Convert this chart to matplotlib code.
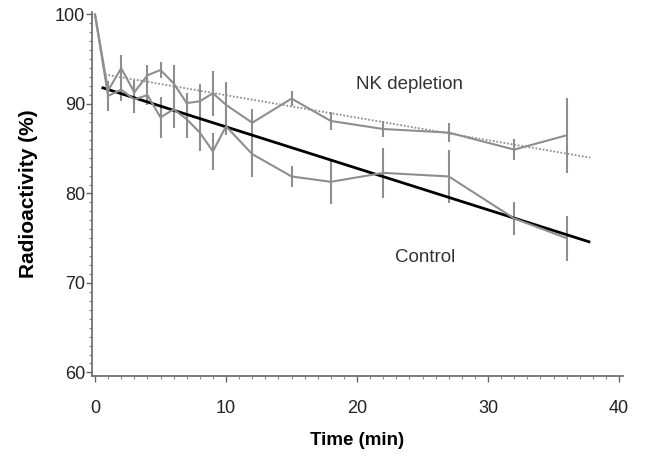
import matplotlib
matplotlib.use("Agg")
import matplotlib.pyplot as plt
from matplotlib.ticker import MultipleLocator

plt.rcParams['font.family'] = ['Liberation Sans', 'DejaVu Sans']

time = [0, 1, 2, 3, 4, 5, 6, 7, 8, 9, 10, 12, 15, 18, 22, 27, 32, 36]
nk_mean = [100, 91.5, 94.0, 91.3, 93.2, 93.8, 92.3, 90.1, 90.3, 91.2, 89.9, 87.9, 90.6, 88.1, 87.2, 86.8, 84.9, 86.5]
nk_err = [0, 0.9, 1.5, 1.4, 1.2, 0.9, 2.0, 1.1, 1.9, 2.5, 2.5, 1.5, 0.8, 1.0, 0.85, 1.05, 1.2, 4.2]
ctrl_mean = [100, 90.9, 91.6, 90.5, 91.0, 88.5, 89.4, 88.3, 86.8, 84.7, 87.5, 84.4, 81.9, 81.3, 82.3, 81.9, 77.2, 75.0]
ctrl_err = [0, 1.7, 1.3, 1.5, 1.1, 2.3, 2.1, 2.1, 2.1, 2.1, 1.0, 2.6, 1.2, 2.5, 2.8, 3.0, 1.8, 2.5]

fit_time = [0.6, 37.7]
ctrl_fit = [91.8, 74.6]
nk_fit_time = [0.75, 37.8]
nk_fit = [93.3, 84.0]

fig = plt.figure(figsize=(6.46, 4.61), dpi=100)
ax = fig.add_axes([0.1424, 0.1844, 0.822, 0.790])

gray = '#8e8e8e'
ax.errorbar(time, nk_mean, yerr=nk_err, color=gray, lw=1.5, elinewidth=1.5, capsize=0)
ax.errorbar(time, ctrl_mean, yerr=ctrl_err, color=gray, lw=1.5, elinewidth=1.5, capsize=0)
ax.plot(nk_fit_time, nk_fit, color='#909090', lw=1.3, ls=(0, (1, 1)))
ax.plot(fit_time, ctrl_fit, color='black', lw=2.0)

ax.text(24.0, 92.2, 'NK depletion', fontsize=13.5, color='#333333', ha='center', va='center')
ax.text(25.2, 72.8, 'Control', fontsize=13.5, color='#333333', ha='center', va='center')

ax.set_xlim(-0.23, 40.3)
ax.set_ylim(59.6, 100.3)
ax.set_xticks([0, 10, 20, 30, 40])
ax.set_yticks([60, 70, 80, 90, 100])
ax.xaxis.set_minor_locator(MultipleLocator(1))
ax.yaxis.set_minor_locator(MultipleLocator(1))
for s in ['top', 'right']:
    ax.spines[s].set_visible(False)
for s in ['left', 'bottom']:
    ax.spines[s].set_color('#666666')
    ax.spines[s].set_linewidth(1.2)
ax.tick_params(axis='both', which='major', length=4, width=1, color='#666666',
               labelsize=13, labelcolor='#222222', direction='out')
ax.tick_params(axis='both', which='minor', length=2.5, width=0.8, color='#888888', direction='out')
ax.tick_params(axis='x', pad=13)
ax.tick_params(axis='y', pad=1)

ax.set_xlabel('Time (min)', fontsize=13.5, fontweight='bold', labelpad=11)
ax.set_ylabel('Radioactivity (%)', fontsize=15, fontweight='bold', labelpad=12)

fig.savefig('out.png', dpi=100)
